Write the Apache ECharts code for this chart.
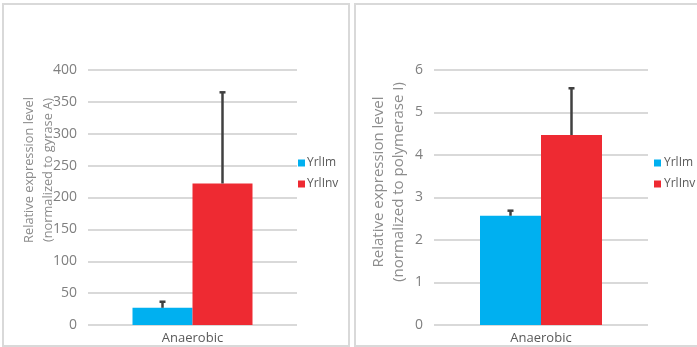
<!DOCTYPE html>
<html>
<head>
<meta charset="utf-8">
<script src="https://cdn.jsdelivr.net/npm/echarts@6/dist/echarts.min.js"></script>
<style>html,body{margin:0;padding:0;background:#fff}#c{width:697px;height:347px}</style>
</head>
<body>
<div id="c"></div>
<script>
const categories = ['Anaerobic'];
const seriesNames = ['YrlIm', 'YrlInv'];
const gyrYrlIm = [27];
const gyrYrlImUpper = [36.5];
const gyrYrlInv = [222];
const gyrYrlInvUpper = [365];
const polYrlIm = [2.57];
const polYrlImUpper = [2.69];
const polYrlInv = [4.47];
const polYrlInvUpper = [5.57];
const leftAxisTitle = ['Relative expression level', '(normalized to gyrase A)'];
const rightAxisTitle = ['Relative expression level', '(normalized to polymerase I)'];

const BLUE = '#00B0F0', RED = '#EE2A32';
const FONT = 'Open Sans';
const NARROW = '"Liberation Sans Narrow", "Open Sans"';

function errSeries(xi, vals, uppers, offset) {
  return {
    type: 'custom', xAxisIndex: xi, yAxisIndex: xi, z: 5,
    data: vals.map((v, i) => [i, v, uppers[i]]),
    renderItem: function (params, api) {
      const lo = api.coord([api.value(0), api.value(1)]);
      const hi = api.coord([api.value(0), api.value(2)]);
      const x = lo[0] + offset;
      return {
        type: 'group', children: [
          { type: 'line', shape: { x1: x, y1: lo[1], x2: x, y2: hi[1] }, style: { stroke: '#404040', lineWidth: 2.5 } },
          { type: 'line', shape: { x1: x - 3, y1: hi[1], x2: x + 3, y2: hi[1] }, style: { stroke: '#404040', lineWidth: 2.5 } }
        ]
      };
    }
  };
}

const chart = echarts.init(document.getElementById('c'), null, { renderer: 'canvas' });
const yCommon = {
  type: 'value', min: 0,
  axisLine: { show: false }, axisTick: { show: false },
  axisLabel: { color: '#7f7f7f', fontSize: 14, fontFamily: FONT, margin: 11 },
  splitLine: { lineStyle: { color: '#d9d9d9', width: 2 } }
};
const xCommon = {
  type: 'category', data: categories,
  axisLine: { show: false }, axisTick: { show: false },
  axisLabel: { color: '#595959', fontSize: 13, fontFamily: FONT, margin: 7 }
};
chart.setOption({
  animation: false,
  textStyle: { fontFamily: FONT },
  grid: [
    { left: 88, width: 209, top: 70, bottom: 22 },
    { left: 434, width: 214, top: 70, bottom: 22 }
  ],
  xAxis: [Object.assign({ gridIndex: 0 }, xCommon), Object.assign({ gridIndex: 1 }, xCommon)],
  yAxis: [
    Object.assign({ gridIndex: 0, max: 400, interval: 50 }, yCommon),
    Object.assign({ gridIndex: 1, max: 6, interval: 1 }, yCommon)
  ],
  legend: [
    { orient: 'vertical', left: 298, top: 157, itemWidth: 7, itemHeight: 7, itemGap: 9, icon: 'rect', padding: 0,
      textStyle: { color: '#595959', fontSize: 12, fontFamily: NARROW, padding: [0, 0, 0, -3] }, data: seriesNames },
    { orient: 'vertical', left: 654, top: 157, itemWidth: 7, itemHeight: 7, itemGap: 9, icon: 'rect', padding: 0,
      textStyle: { color: '#595959', fontSize: 12, fontFamily: NARROW, padding: [0, 0, 0, -2] }, data: seriesNames }
  ],
  series: [
    { name: seriesNames[0], type: 'bar', xAxisIndex: 0, yAxisIndex: 0, data: gyrYrlIm, barWidth: 60, barGap: '0%', itemStyle: { color: BLUE } },
    { name: seriesNames[1], type: 'bar', xAxisIndex: 0, yAxisIndex: 0, data: gyrYrlInv, barWidth: 60, barGap: '0%', itemStyle: { color: RED } },
    { name: seriesNames[0], type: 'bar', xAxisIndex: 1, yAxisIndex: 1, data: polYrlIm, barWidth: 61, barGap: '0%', itemStyle: { color: BLUE } },
    { name: seriesNames[1], type: 'bar', xAxisIndex: 1, yAxisIndex: 1, data: polYrlInv, barWidth: 61, barGap: '0%', itemStyle: { color: RED } },
    errSeries(0, gyrYrlIm, gyrYrlImUpper, -30),
    errSeries(0, gyrYrlInv, gyrYrlInvUpper, 30),
    errSeries(1, polYrlIm, polYrlImUpper, -30.5),
    errSeries(1, polYrlInv, polYrlInvUpper, 30.5)
  ],
  graphic: [
    { type: 'rect', shape: { x: 3, y: 4, width: 346, height: 342 }, style: { fill: 'none', stroke: '#d9d9d9', lineWidth: 2 }, silent: true },
    { type: 'rect', shape: { x: 355, y: 4, width: 350, height: 342 }, style: { fill: 'none', stroke: '#d9d9d9', lineWidth: 2 }, silent: true },
    { type: 'text', x: 39, y: 170, rotation: Math.PI / 2,
      style: { text: leftAxisTitle.join('\n'), fill: '#8c8c8c', fontSize: 12.8, fontFamily: FONT, lineHeight: 19, align: 'center', verticalAlign: 'middle' } },
    { type: 'text', x: 389, y: 182, rotation: Math.PI / 2,
      style: { text: rightAxisTitle.join('\n'), fill: '#8c8c8c', fontSize: 15, fontFamily: FONT, lineHeight: 20, align: 'center', verticalAlign: 'middle' } }
  ]
});
</script>
</body>
</html>
